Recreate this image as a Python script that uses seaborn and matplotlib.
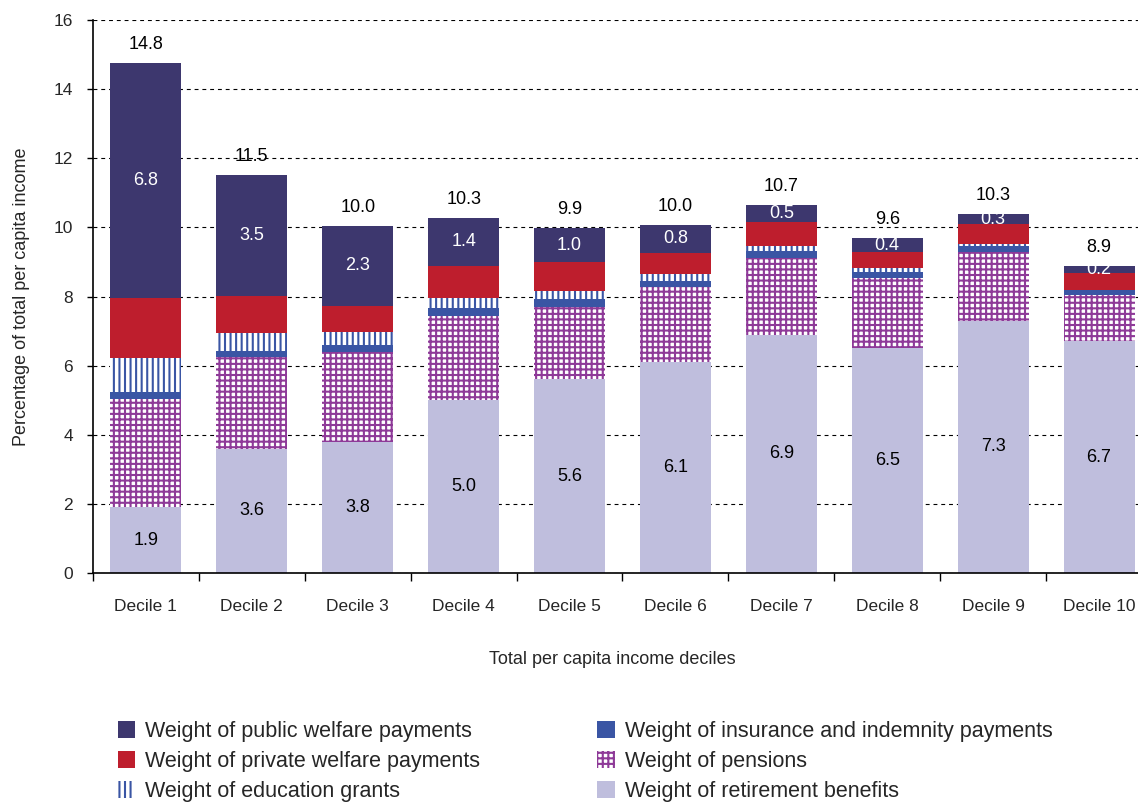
import numpy as np
import pandas as pd
import matplotlib.pyplot as plt
import seaborn as sns
from matplotlib.patches import Patch
from matplotlib.ticker import FixedLocator, MultipleLocator

# Data (percent of total per capita income)
deciles = [f"Decile {i}" for i in range(1, 11)]
retirement = [1.9, 3.6, 3.8, 5.0, 5.6, 6.1, 6.9, 6.5, 7.3, 6.7]
pensions = [3.13, 2.65, 2.6, 2.43, 2.09, 2.17, 2.21, 2.03, 2.0, 1.35]
insurance = [0.2, 0.16, 0.19, 0.24, 0.23, 0.17, 0.22, 0.17, 0.17, 0.13]
education = [0.98, 0.54, 0.37, 0.29, 0.23, 0.2, 0.12, 0.13, 0.05, 0.02]
private = [1.75, 1.08, 0.78, 0.92, 0.84, 0.63, 0.7, 0.46, 0.57, 0.49]
public = [6.8, 3.5, 2.3, 1.4, 1.0, 0.8, 0.5, 0.4, 0.3, 0.2]
totals = [14.8, 11.5, 10.0, 10.3, 9.9, 10.0, 10.7, 9.6, 10.3, 8.9]

sns.set_style("ticks")
plt.rcParams['font.family'] = ['Liberation Sans', 'DejaVu Sans']
plt.rcParams['hatch.linewidth'] = 1.5
FS = 12.5

# bottom to top
layers = [
    ("Weight of retirement benefits", retirement, dict(color='#BFBEDD')),
    ("Weight of pensions", pensions, dict(color='white', edgecolor='#8E3A98', hatch='+++')),
    ("Weight of insurance and indemnity payments", insurance, dict(color='#3A55A4')),
    ("Weight of education grants", education, dict(color='white', edgecolor='#3A55A4', hatch='|||')),
    ("Weight of private welfare payments", private, dict(color='#BE1E2D')),
    ("Weight of public welfare payments", public, dict(color='#3D376E')),
]

df = pd.DataFrame({name: vals for name, vals, _ in layers}, index=deciles)
cum = df.cumsum(axis=1)

fig = plt.figure(figsize=(11.38, 8.02), dpi=100)
ax = fig.add_axes([0.0817, 0.2855, 0.9306, 0.6895])

# draw cumulative bars from the top layer down so each covers the one above
for name, vals, style in reversed(layers):
    sns.barplot(x=deciles, y=cum[name].values, ax=ax, width=0.67,
                saturation=1, linewidth=0, zorder=2, **style)

ax.set_xlim(-0.5, 9.5)
ax.set_ylim(0, 16)
ax.yaxis.set_major_locator(MultipleLocator(2))
ax.yaxis.grid(True, linestyle=(0, (3.5, 3.5)), color='black', linewidth=0.8)
ax.set_axisbelow(True)

ax.set_xticks(range(10))
ax.set_xticklabels(deciles, fontsize=FS)
ax.xaxis.set_minor_locator(FixedLocator(np.arange(-0.5, 10, 1)))
ax.tick_params(axis='x', which='major', length=0, pad=19)
ax.tick_params(axis='x', which='minor', length=5.5, width=1, color='black')
ax.tick_params(axis='y', length=4.5, width=1, color='black', labelsize=FS, pad=10)

sns.despine(ax=ax)
for s in ['left', 'bottom']:
    ax.spines[s].set_color('black')
    ax.spines[s].set_linewidth(1.2)

ax.set_xlabel("Total per capita income deciles", fontsize=13)
ax.set_ylabel("Percentage of total per capita income", fontsize=13, labelpad=17)
ax.xaxis.set_label_coords((612 - 93) / (1152 - 93), -0.141)

top = cum.iloc[:, -1].values
pub_bottom = cum["Weight of private welfare payments"].values
for i in range(10):
    ax.annotate(f"{totals[i]:.1f}", (i, top[i]), xytext=(0, 7), textcoords='offset points',
                ha='center', va='bottom', fontsize=13, color='black')
    ax.text(i, pub_bottom[i] + public[i] / 2, f"{public[i]:.1f}", ha='center', va='center',
            fontsize=13, color='white', zorder=5)
    ax.text(i, retirement[i] / 2, f"{retirement[i]:.1f}", ha='center', va='center',
            fontsize=13, color='black', zorder=5)

order = [5, 4, 3, 2, 1, 0]
handles = []
for k in order:
    name, _, style = layers[k]
    handles.append(Patch(facecolor=style['color'], edgecolor=style.get('edgecolor', style['color']),
                         hatch=style.get('hatch'), linewidth=0, label=name))
fig.legend(handles=handles, ncol=2, loc='upper left', bbox_to_anchor=(0.1035, 0.101),
           frameon=False, fontsize=15.5, handlelength=0.8, handleheight=0.8,
           handletextpad=0.47, labelspacing=0.42, columnspacing=5.45,
           borderpad=0, borderaxespad=0)

fig.savefig("out.png", dpi=100)
